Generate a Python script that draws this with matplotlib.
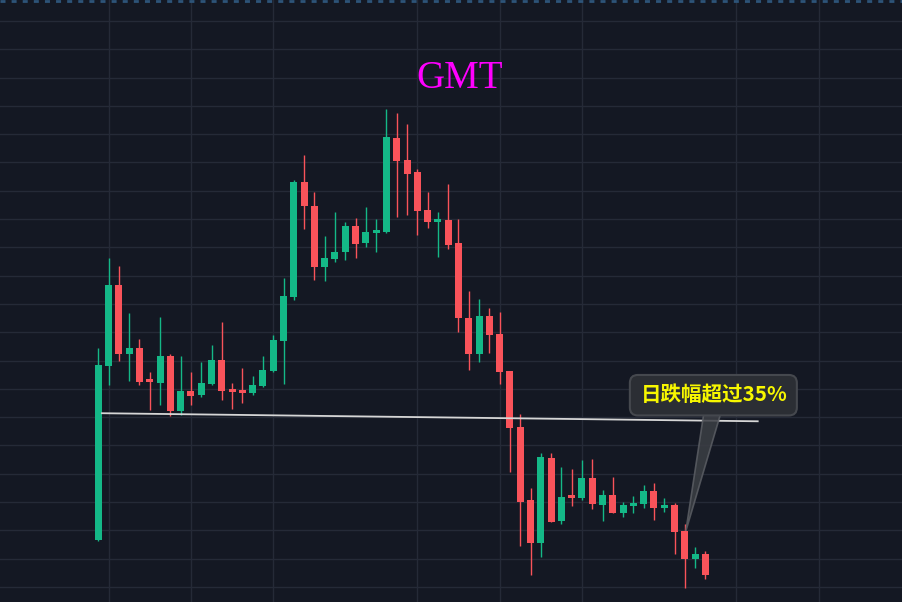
import numpy as np
import matplotlib
matplotlib.use("Agg")
import matplotlib.pyplot as plt
from matplotlib.patches import FancyBboxPatch, Polygon
from matplotlib.lines import Line2D
from matplotlib.transforms import Affine2D

# daily candles (price units)
open_ = [0.266, 0.881, 1.167, 0.924, 0.946, 0.828, 0.822, 0.916, 0.723, 0.793,
         0.780, 0.818, 0.902, 0.795, 0.793, 0.787, 0.811, 0.864, 0.970, 1.126,
         1.531, 1.446, 1.232, 1.259, 1.284, 1.376, 1.316, 1.351, 1.354, 1.687,
         1.609, 1.566, 1.432, 1.390, 1.397, 1.316, 1.051, 0.923, 1.058, 0.994,
         0.863, 0.665, 0.407, 0.255, 0.556, 0.333, 0.418, 0.415, 0.485, 0.390,
         0.425, 0.361, 0.386, 0.393, 0.439, 0.379, 0.390, 0.298, 0.199, 0.217]
high = [0.946, 1.264, 1.234, 1.068, 0.976, 0.860, 1.054, 0.923, 0.916, 0.860,
        0.895, 0.955, 1.036, 0.821, 0.874, 0.846, 0.916, 0.990, 1.192, 1.538,
        1.627, 1.496, 1.340, 1.425, 1.390, 1.404, 1.443, 1.400, 1.789, 1.775,
        1.736, 1.577, 1.496, 1.425, 1.524, 1.400, 1.146, 1.118, 1.086, 1.072,
        0.863, 0.711, 0.450, 0.574, 0.574, 0.524, 0.517, 0.549, 0.552, 0.443,
        0.489, 0.400, 0.422, 0.460, 0.468, 0.415, 0.397, 0.322, 0.241, 0.227]
low = [0.264, 0.814, 0.900, 0.828, 0.814, 0.727, 0.744, 0.705, 0.709, 0.744,
       0.772, 0.815, 0.762, 0.730, 0.751, 0.780, 0.807, 0.860, 0.817, 1.114,
       1.366, 1.185, 1.181, 1.248, 1.255, 1.263, 1.301, 1.284, 1.352, 1.407,
       1.415, 1.343, 1.369, 1.266, 1.294, 1.001, 0.867, 0.895, 0.927, 0.817,
       0.506, 0.245, 0.142, 0.206, 0.329, 0.322, 0.386, 0.407, 0.376, 0.333,
       0.360, 0.347, 0.361, 0.379, 0.337, 0.365, 0.217, 0.096, 0.167, 0.128]
close = [0.884, 1.167, 0.924, 0.946, 0.825, 0.825, 0.916, 0.723, 0.793, 0.776,
         0.821, 0.902, 0.794, 0.790, 0.786, 0.814, 0.867, 0.973, 1.128, 1.531,
         1.446, 1.232, 1.263, 1.284, 1.376, 1.312, 1.354, 1.358, 1.690, 1.605,
         1.560, 1.429, 1.390, 1.397, 1.309, 1.051, 0.923, 1.058, 0.990, 0.860,
         0.662, 0.400, 0.255, 0.559, 0.330, 0.418, 0.415, 0.485, 0.393, 0.425,
         0.361, 0.390, 0.397, 0.439, 0.379, 0.390, 0.294, 0.199, 0.217, 0.142]

# support line drawn on the chart (candle index, price)
line_x = [0.36, 64.08]
line_y = [0.714, 0.6855]

# vertical grid positions (candle index) and horizontal price grid
xgrid = [1, 9, 17, 31, 39, 47, 62, 70]
ygrid = np.arange(0.1, 2.15, 0.1)

title = "GMT"
note = "日跌幅超过35%"
note_idx = 57

bg = "#141823"
up_c = "#14b887"
down_c = "#f9535a"

o = np.array(open_)
h = np.array(high)
l = np.array(low)
c = np.array(close)
x = np.arange(len(o))
colors = np.where(c >= o, up_c, down_c)

fig = plt.figure(figsize=(9.02, 6.02), dpi=100, facecolor=bg)
ax = fig.add_axes([0, 0, 1, 1], facecolor=bg)

ax.vlines(x, l, h, colors=colors, linewidth=1.0, zorder=3)
body = np.maximum(np.abs(c - o), 0.0106)
ax.bar(x, body, bottom=np.minimum(o, c), width=0.68, color=colors,
       edgecolor="none", zorder=4)

ax.plot(line_x, line_y, color="#d6d6d6", lw=1.3, zorder=5)

ax.set_xlim(-9.553, 78.10)
ax.set_ylim(0.047, 2.174)
ax.set_xticks(xgrid)
ax.set_yticks(ygrid)
ax.grid(True, color="#252a37", lw=1.0, zorder=0)
ax.tick_params(length=0, labelbottom=False, labelleft=False)
for s in ax.spines.values():
    s.set_visible(False)

fig.text(460 / 902, 1 - 78 / 602, title, color="#ff00ff", fontsize=28,
         family="Liberation Serif", ha="center", va="center")

# dashed line along the top edge
fig.add_artist(Line2D([0, 1], [0.999, 0.999], transform=fig.transFigure,
                      color="#2d5479", lw=2, linestyle=(0, (1.8, 2.2))))

# callout box pointing at the drop candle
tip = ax.transData.transform((note_idx, o[note_idx]))
tr = Affine2D().translate(tip[0], tip[1])
wedge = Polygon([(19, 118), (36, 118), (1, 0)], closed=True,
                facecolor="#3c3f45", edgecolor="#5b5e64", lw=1.2, alpha=0.85,
                transform=tr, zorder=6)
fig.add_artist(wedge)
box = FancyBboxPatch((-55, 115.5), 167, 40.5,
                     boxstyle="round,pad=0,rounding_size=8",
                     facecolor="#2b2e34", edgecolor="#45484e", lw=1.5,
                     transform=tr, zorder=7)
fig.add_artist(box)
fig.text(29, 136, note, transform=tr, color="#f7f700", fontsize=14.8,
         fontweight="bold", family=["Noto Sans CJK SC", "DejaVu Sans"],
         ha="center", va="center", zorder=8)

fig.savefig("out.png", dpi=100, facecolor=bg)
